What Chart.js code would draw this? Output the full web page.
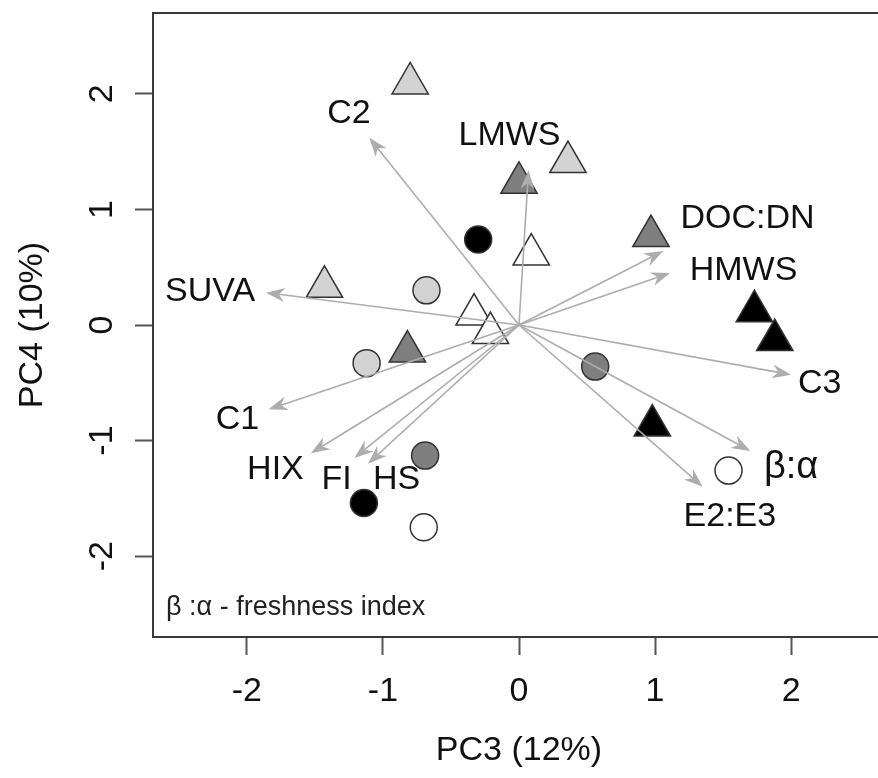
<!DOCTYPE html>
<html>
<head>
<meta charset="utf-8">
<script src="https://cdn.jsdelivr.net/npm/chart.js@4/dist/chart.umd.min.js"></script>
<style>
html, body { margin: 0; padding: 0; background: #fff; overflow: hidden; }
canvas { display: block; }
</style>
</head>
<body>
<canvas id="pca" width="885" height="778"></canvas>
<script>
// --- Data (PC3 / PC4 scores and loadings) ---
const circleWhite = [[-0.70, -1.75], [1.54, -1.26]];
const circleLight = [[-0.68, 0.30], [-1.12, -0.33]];
const circleDark = [[0.56, -0.36], [-0.69, -1.13]];
const circleBlack = [[-0.30, 0.74], [-1.14, -1.54]];
const triWhite = [[0.09, 0.61], [-0.33, 0.09], [-0.21, -0.07]];
const triLight = [[-0.80, 2.09], [0.36, 1.41], [-1.43, 0.33]];
const triDark = [[0.00, 1.23], [0.97, 0.77], [-0.82, -0.23]];
const triBlack = [[1.73, 0.12], [1.88, -0.13], [0.98, -0.87]];

const arrowVars = ['C2', 'LMWS', 'DOC:DN', 'HMWS', 'C3', 'β:α', 'E2:E3', 'SUVA', 'C1', 'HIX', 'FI', 'HS'];
const arrowX = [-1.10, 0.07, 1.06, 1.11, 2.00, 1.70, 1.35, -1.86, -1.84, -1.53, -1.21, -1.11];
const arrowY = [1.62, 1.34, 0.64, 0.45, -0.43, -1.09, -1.40, 0.28, -0.73, -1.11, -1.15, -1.20];
const labelX = [-1.25, -0.07, 1.68, 1.65, 2.21, 2.00, 1.55, -2.27, -2.07, -1.79, -1.34, -0.90];
const labelY = [1.83, 1.64, 0.92, 0.47, -0.51, -1.23, -1.66, 0.29, -0.82, -1.255, -1.34, -1.34];

const xTitle = 'PC3 (12%)';
const yTitle = 'PC4 (10%)';
const footnote = 'β :α - freshness index';

const FONT = '"Liberation Sans", Arial, Helvetica, sans-serif';

// --- Helpers ---
function to_points(arr) { return arr.map(p => ({ x: p[0], y: p[1] })); }

function make_set(arr, style, fill) {
  return {
    data: to_points(arr),
    pointStyle: style,
    pointRadius: style === 'triangle' ? 21 : 13.5,
    pointBackgroundColor: fill,
    pointBorderColor: '#333',
    pointBorderWidth: 1.5,
    showLine: false
  };
}

function draw_arrow(ctx, x0, y0, x1, y1) {
  const ang = Math.atan2(y1 - y0, x1 - x0);
  const len = 19, half = 7, notch = 13;
  ctx.beginPath();
  ctx.moveTo(x0, y0);
  ctx.lineTo(x1 - Math.cos(ang) * notch, y1 - Math.sin(ang) * notch);
  ctx.stroke();
  const bx = x1 - Math.cos(ang) * len, by = y1 - Math.sin(ang) * len;
  const nx = -Math.sin(ang), ny = Math.cos(ang);
  ctx.beginPath();
  ctx.moveTo(x1, y1);
  ctx.lineTo(bx + nx * half, by + ny * half);
  ctx.lineTo(x1 - Math.cos(ang) * notch, y1 - Math.sin(ang) * notch);
  ctx.lineTo(bx - nx * half, by - ny * half);
  ctx.closePath();
  ctx.fill();
}

// kill the auto padding Chart.js adds for edge tick labels
function no_pad(s) { s.paddingTop = 0; s.paddingBottom = 0; s.paddingLeft = 0; s.paddingRight = 0; }

// --- Overlay: loadings, labels, box ---
const biplotLayer = {
  id: 'biplotLayer',
  afterDatasetsDraw(chart) {
    const { ctx, chartArea: a, scales: { x, y } } = chart;
    const x0 = x.getPixelForValue(0), y0 = y.getPixelForValue(0);
    ctx.save();
    ctx.strokeStyle = '#adadad';
    ctx.fillStyle = '#adadad';
    ctx.lineWidth = 1.6;
    arrowVars.forEach((v, i) => {
      draw_arrow(ctx, x0, y0, x.getPixelForValue(arrowX[i]), y.getPixelForValue(arrowY[i]));
    });
    ctx.fillStyle = '#111';
    ctx.textAlign = 'center';
    ctx.textBaseline = 'middle';
    arrowVars.forEach((v, i) => {
      ctx.font = (v === 'β:α' ? '38px ' : '34px ') + FONT;
      ctx.fillText(v, x.getPixelForValue(labelX[i]), y.getPixelForValue(labelY[i]));
    });
    ctx.font = '27px ' + FONT;
    ctx.textAlign = 'left';
    ctx.textBaseline = 'alphabetic';
    ctx.fillStyle = '#222';
    ctx.fillText(footnote, a.left + 13, a.bottom - 22);
    ctx.strokeStyle = '#3a3a3a';
    ctx.lineWidth = 2;
    ctx.strokeRect(a.left, a.top, a.right - a.left, a.bottom - a.top);
    ctx.restore();
  }
};

new Chart(document.getElementById('pca'), {
  type: 'scatter',
  data: {
    datasets: [
      make_set(triWhite, 'triangle', '#ffffff'),
      make_set(triLight, 'triangle', '#d3d3d3'),
      make_set(triDark, 'triangle', '#7f7f7f'),
      make_set(triBlack, 'triangle', '#000000'),
      make_set(circleWhite, 'circle', '#ffffff'),
      make_set(circleLight, 'circle', '#d3d3d3'),
      make_set(circleDark, 'circle', '#7f7f7f'),
      make_set(circleBlack, 'circle', '#000000')
    ]
  },
  options: {
    responsive: false,
    devicePixelRatio: 1,
    animation: false,
    layout: { autoPadding: false, padding: { top: 13, right: 0, bottom: 0, left: 0 } },
    plugins: { legend: { display: false }, tooltip: { enabled: false } },
    scales: {
      x: {
        type: 'linear', min: -2.69, max: 2.69,
        afterFit(s) { s.height = 141; no_pad(s); },
        border: { display: false },
        grid: { drawOnChartArea: false, drawTicks: true, tickLength: 18, tickWidth: 2, tickColor: '#555' },
        ticks: { stepSize: 1, includeBounds: false, padding: 16, color: '#111', font: { family: FONT, size: 34 } },
        title: { display: true, text: xTitle, color: '#111', padding: { top: 0, bottom: 7 }, font: { family: FONT, size: 34 } }
      },
      y: {
        type: 'linear', min: -2.70, max: 2.70,
        afterFit(s) { s.width = 153; no_pad(s); },
        border: { display: false },
        grid: { drawOnChartArea: false, drawTicks: true, tickLength: 18, tickWidth: 2, tickColor: '#555' },
        ticks: { stepSize: 1, includeBounds: false, minRotation: 90, maxRotation: 90, crossAlign: 'center', padding: 17, color: '#111', font: { family: FONT, size: 34 } },
        title: { display: true, text: yTitle, color: '#111', padding: { top: 12, bottom: 0 }, font: { family: FONT, size: 34 } }
      }
    }
  },
  plugins: [biplotLayer]
});
</script>
</body>
</html>
